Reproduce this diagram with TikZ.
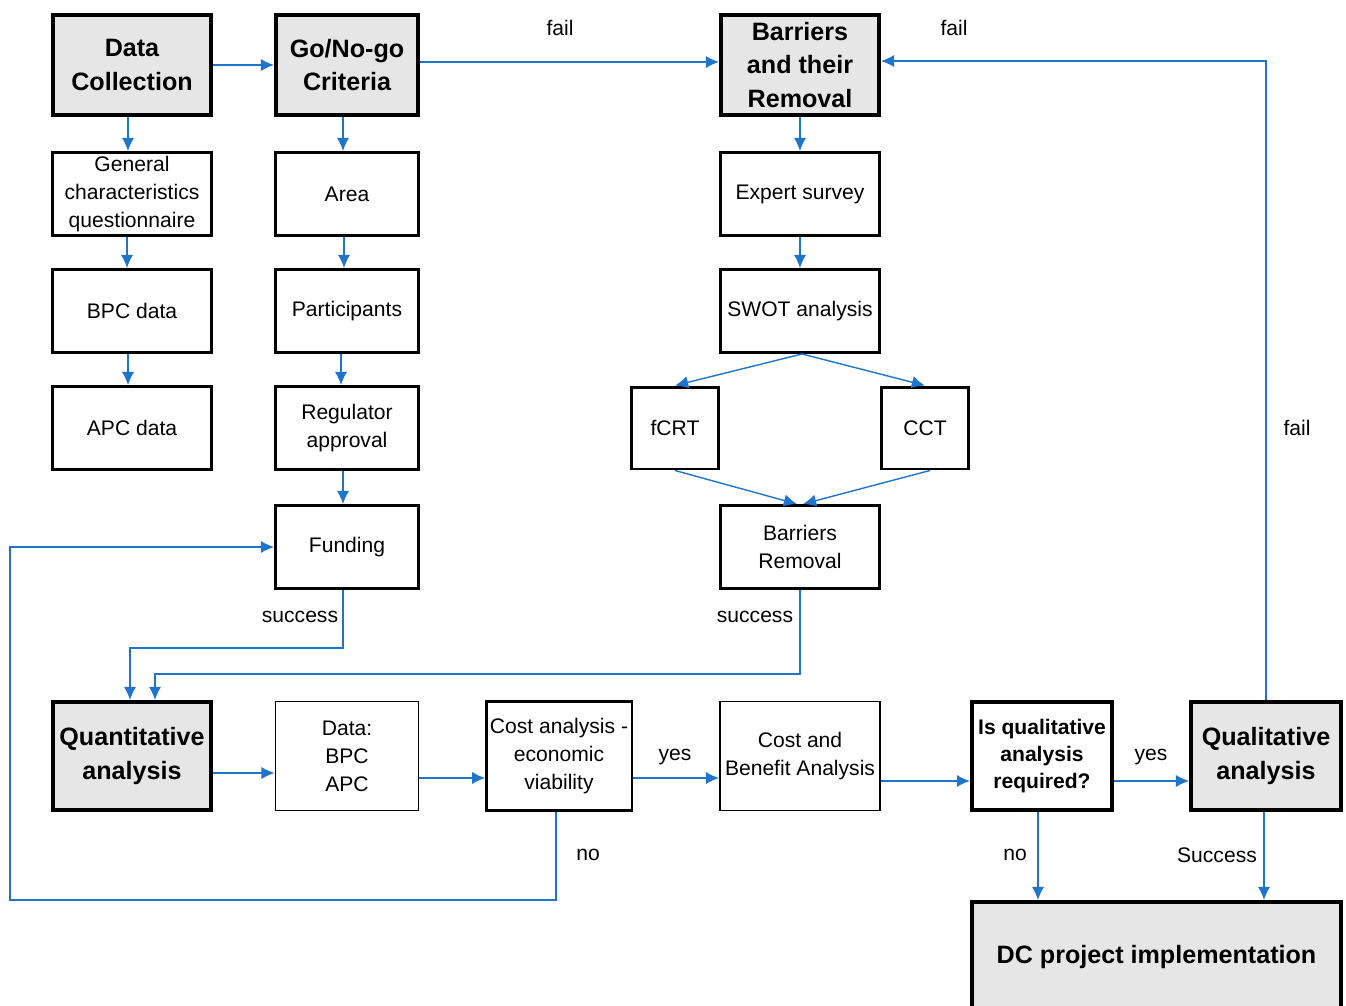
\documentclass[tikz,border=0pt]{standalone}
\usepackage{fontspec}
\setmainfont{Liberation Sans}
\usetikzlibrary{arrows.meta}

\definecolor{flowblue}{RGB}{31,117,204}
\definecolor{headgray}{RGB}{230,230,230}

\tikzset{
  box/.style={draw, line width=1.7pt, align=center, inner sep=2pt,
    font=\fontsize{12}{16}\selectfont},
  thinbox/.style={box, line width=1.1pt},
  head/.style={box, line width=2.3pt, fill=headgray,
    font=\fontsize{14.3}{19.3}\selectfont\bfseries},
  flow/.style={draw=flowblue, line width=0.8pt, -{Latex[length=7.5pt,width=7pt]}},
  lbl/.style={font=\fontsize{12}{16}\selectfont, inner sep=1pt},
}

\begin{document}
\begin{tikzpicture}[x=0.02cm, y=-0.02cm]
\useasboundingbox (0,0) rectangle (1346,1005);

% first column
\node[head, minimum width=3.16cm, minimum height=2cm] (datacoll) at (132,65) {Data\\Collection};
\node[box, minimum width=3.18cm, minimum height=1.66cm] (genchar) at (132,194) {General\\characteristics\\questionnaire};
\node[box, minimum width=3.18cm, minimum height=1.66cm] (bpc) at (132,311) {BPC data};
\node[box, minimum width=3.18cm, minimum height=1.66cm] (apc) at (132,428) {APC data};

% second column
\node[head, minimum width=2.84cm, minimum height=2cm] (gonogo) at (347,65) {Go/No-go\\Criteria};
\node[box, minimum width=2.86cm, minimum height=1.66cm] (area) at (347,194) {Area};
\node[box, minimum width=2.86cm, minimum height=1.66cm] (particip) at (347,311) {Participants};
\node[box, minimum width=2.86cm, minimum height=1.66cm] (regul) at (347,428) {Regulator\\approval};
\node[box, minimum width=2.86cm, minimum height=1.66cm] (funding) at (347,547) {Funding};

% third column
\node[head, minimum width=3.16cm, minimum height=2cm] (barriers) at (800,65) {Barriers\\and their\\Removal};
\node[box, minimum width=3.18cm, minimum height=1.66cm] (expert) at (800,194) {Expert survey};
\node[box, minimum width=3.18cm, minimum height=1.66cm] (swot) at (800,311) {SWOT analysis};
\node[box, minimum width=1.74cm, minimum height=1.64cm] (fcrt) at (675,428) {fCRT};
\node[box, minimum width=1.74cm, minimum height=1.64cm] (cct) at (925,428) {CCT};
\node[box, minimum width=3.18cm, minimum height=1.66cm] (barrem) at (800,547) {Barriers\\Removal};

% bottom row
\node[head, minimum width=3.16cm, minimum height=2.16cm] (quant) at (132,756) {Quantitative\\analysis};
\node[thinbox, minimum width=2.86cm, minimum height=2.18cm] (databa) at (347,756) {Data:\\BPC\\APC};
\node[box, line width=1.3pt, minimum width=2.82cm, minimum height=2.18cm] (costan) at (559,756) {Cost analysis -\\economic\\viability};
\node[thinbox, minimum width=3.2cm, minimum height=2.18cm] (cba) at (800,756) {Cost and\\Benefit Analysis};
\node[box, line width=2.3pt, minimum width=2.8cm, minimum height=2.16cm,
  font=\fontsize{12}{15.6}\selectfont\bfseries] (isqual) at (1042,756) {Is qualitative\\analysis\\required?};
\node[head, minimum width=3cm, minimum height=2.16cm] (qual) at (1266,756) {Qualitative\\analysis};
\node[head, minimum width=7.38cm, minimum height=2.2cm] (implem) at (1156.5,957) {DC project implementation};

% labels
\node[lbl] (failgo) at (560,28) {fail};
\node[lbl] (failtop) at (954,28) {fail};
\node[lbl] (failside) at (1297,428) {fail};
\node[lbl] (succfund) at (300,617) {success};
\node[lbl] (succbar) at (755,617) {success};
\node[lbl] (yescost) at (675,757) {yes};
\node[lbl] (yesqual) at (1151,757) {yes};
\node[lbl] (nocost) at (588,855) {no};
\node[lbl] (noqual) at (1015,855) {no};
\node[lbl] (succqual) at (1217,855) {Success};

% connectors
\draw[flow] (datacoll) -- (gonogo);
\draw[flow] (gonogo.east |- 0,62) -- (barriers.west |- 0,62);
\draw[flow] (qual.north) |- (barriers.east |- 0,61);

\draw[flow] ([xshift=-0.08cm]datacoll.south) -- ([xshift=-0.08cm]genchar.north);
\draw[flow] ([xshift=-0.1cm]genchar.south) -- ([xshift=-0.1cm]bpc.north);
\draw[flow] ([xshift=-0.08cm]bpc.south) -- ([xshift=-0.08cm]apc.north);

\draw[flow] ([xshift=-0.08cm]gonogo.south) -- ([xshift=-0.08cm]area.north);
\draw[flow] ([xshift=-0.06cm]area.south) -- ([xshift=-0.06cm]particip.north);
\draw[flow] ([xshift=-0.12cm]particip.south) -- ([xshift=-0.12cm]regul.north);
\draw[flow] ([xshift=-0.08cm]regul.south) -- ([xshift=-0.08cm]funding.north);

\draw[flow] (barriers.south) -- (expert.north);
\draw[flow] (expert.south) -- (swot.north);
\draw[flow] ([xshift=0.04cm]swot.south) -- (fcrt.north);
\draw[flow] ([xshift=0.04cm]swot.south) -- (cct.north);
\draw[flow] (fcrt.south) -- ([xshift=-0.06cm]barrem.north);
\draw[flow] ([xshift=0.1cm]cct.south) -- ([xshift=0.06cm]barrem.north);

\draw[flow] ([xshift=-0.08cm]funding.south) -- ++(0,58) -| ([xshift=-0.04cm]quant.north);
\draw[flow] (barrem.south) -- ++(0,84) -| ([xshift=0.46cm]quant.north);

\draw[flow] ([yshift=-0.34cm]quant.east) -- ([yshift=-0.34cm]databa.west);
\draw[flow] ([yshift=-0.44cm]databa.east) -- ([yshift=-0.44cm]costan.west);
\draw[flow] ([yshift=-0.44cm]costan.east) -- ([yshift=-0.44cm]cba.west);
\draw[flow] ([yshift=-0.5cm]cba.east) -- ([yshift=-0.5cm]isqual.west);
\draw[flow] ([yshift=-0.5cm]isqual.east) -- ([yshift=-0.5cm]qual.west);

\coordinate (loopcorner) at (10,900);
\draw[flow] ([xshift=-0.06cm]costan.south) |- (loopcorner) |- (funding.west);

\draw[flow] ([xshift=-0.08cm]isqual.south) -- ([xshift=-0.08cm]isqual.south |- implem.north);
\draw[flow] ([xshift=-0.04cm]qual.south) -- ([xshift=-0.04cm]qual.south |- implem.north);
\end{tikzpicture}
\end{document}
